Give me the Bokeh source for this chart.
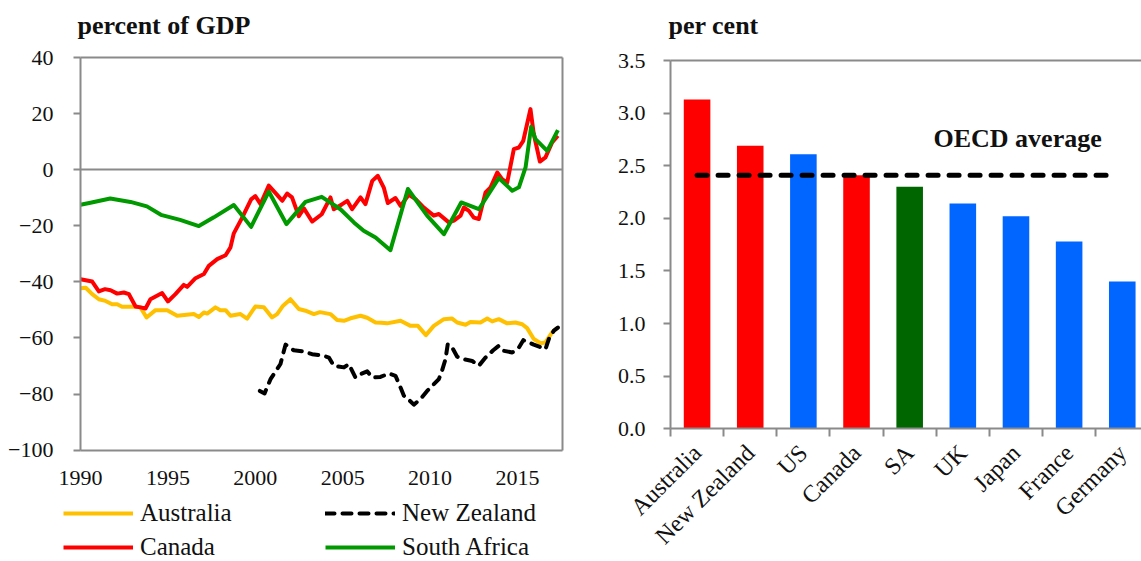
import math
from bokeh.plotting import figure
from bokeh.models import (Range1d, SingleIntervalTicker, FixedTicker, Legend, LegendItem,
                          Label, PrintfTickFormatter, LinearAxis)
from bokeh.layouts import row
from bokeh.embed import file_html
from bokeh.resources import INLINE

# ---------------- data: left chart (percent of GDP) ----------------
aus_year = [1990.0, 1990.3, 1990.67, 1991.05, 1991.43, 1991.81, 1992.1, 1992.38, 1993.05, 1993.43,
            1993.78, 1994.29, 1994.96, 1995.53, 1996.48, 1996.77, 1997.06, 1997.25, 1997.72, 1998.0,
            1998.3, 1998.58, 1999.15, 1999.53, 2000.0, 2000.49, 2000.96, 2001.25, 2001.59, 2002.01,
            2002.49, 2002.87, 2003.35, 2003.7, 2004.3, 2004.68, 2005.07, 2005.45, 2006.02, 2006.4,
            2006.88, 2007.2, 2007.54, 2008.31, 2008.88, 2009.3, 2009.76, 2010.21, 2010.79, 2011.26,
            2011.55, 2012.03, 2012.31, 2012.88, 2013.27, 2013.55, 2013.93, 2014.41, 2014.88, 2015.27,
            2015.55, 2015.93, 2016.32, 2016.6, 2016.98, 2017.31]
aus_val = [-42.3, -42.1, -44.4, -46.2, -46.8, -48.0, -48.0, -48.9, -48.9, -49.1,
           -52.7, -50.1, -50.1, -52.1, -51.5, -52.5, -50.9, -51.3, -49.1, -50.1,
           -50.1, -52.1, -51.5, -53.1, -48.8, -49.1, -52.7, -51.5, -48.5, -46.2,
           -49.7, -50.3, -51.5, -50.8, -51.5, -53.6, -53.9, -53.0, -52.1, -52.8,
           -54.5, -54.6, -54.8, -53.9, -55.7, -55.7, -59.0, -55.7, -53.3, -53.1,
           -54.5, -55.3, -54.3, -54.5, -53.1, -54.1, -53.3, -54.8, -54.5, -55.1,
           -56.5, -60.4, -61.9, -61.6, -58.0, -56.3]

can_year = [1990.0, 1990.67, 1991.05, 1991.4, 1991.72, 1992.1, 1992.48, 1992.77, 1993.15, 1993.43,
            1993.72, 1994.0, 1994.67, 1995.0, 1995.43, 1995.91, 1996.1, 1996.58, 1997.06, 1997.34,
            1997.82, 1998.3, 1998.58, 1998.77, 1999.25, 1999.76, 2000.0, 2000.3, 2000.77, 2001.25,
            2001.54, 2001.82, 2002.1, 2002.49, 2002.78, 2003.25, 2003.8, 2004.3, 2004.49, 2004.97,
            2005.26, 2005.54, 2006.02, 2006.3, 2006.69, 2007.01, 2007.35, 2007.58, 2008.02, 2008.31,
            2008.78, 2009.17, 2009.64, 2010.21, 2010.5, 2011.07, 2011.36, 2011.74, 2011.93, 2012.22,
            2012.5, 2012.79, 2013.17, 2013.46, 2013.84, 2014.12, 2014.41, 2014.79, 2015.08, 2015.33,
            2015.74, 2015.93, 2016.28, 2016.6, 2016.98, 2017.31]
can_val = [-39.1, -39.9, -43.4, -42.6, -43.0, -44.2, -43.8, -44.4, -48.8, -49.1,
           -49.5, -46.2, -44.0, -47.0, -44.4, -41.1, -41.8, -38.7, -37.2, -34.3,
           -31.9, -30.5, -27.7, -22.7, -17.1, -10.6, -9.4, -12.3, -5.7, -9.0,
           -11.1, -8.5, -9.9, -16.6, -13.8, -18.5, -15.9, -9.9, -14.1, -12.3,
           -11.1, -14.1, -9.9, -12.3, -4.0, -2.2, -6.4, -11.9, -10.1, -12.9,
           -9.0, -10.5, -13.5, -16.4, -15.8, -18.8, -18.2, -16.4, -13.5, -14.7,
           -17.1, -17.6, -8.1, -6.3, -1.0, -3.4, -4.6, 7.3, 7.9, 10.3,
           21.6, 12.7, 2.9, 4.4, 9.7, 12.1]

nz_year = [2000.26, 2000.53, 2000.87, 2001.44, 2001.73, 2002.2, 2002.78, 2003.25, 2003.92, 2004.21,
           2004.49, 2005.07, 2005.35, 2005.73, 2006.02, 2006.4, 2006.69, 2007.16, 2007.64, 2008.02,
           2008.31, 2008.5, 2008.69, 2009.07, 2009.45, 2009.83, 2010.12, 2010.5, 2010.69, 2010.88,
           2011.01, 2011.26, 2011.55, 2011.93, 2012.41, 2012.79, 2013.17, 2013.61, 2013.93, 2014.22,
           2014.7, 2015.08, 2015.33, 2015.65, 2015.93, 2016.28, 2016.6, 2016.79, 2017.08, 2017.31]
nz_val = [-78.9, -79.8, -74.7, -69.3, -62.4, -64.4, -64.8, -65.8, -66.4, -67.0,
          -69.9, -70.5, -69.3, -74.1, -72.9, -71.9, -74.1, -73.9, -72.7, -73.5,
          -77.7, -80.6, -81.5, -83.8, -81.8, -78.9, -77.1, -74.7, -71.5, -67.6,
          -62.2, -63.4, -66.7, -67.6, -68.2, -69.9, -67.0, -64.4, -62.8, -64.6,
          -65.2, -63.4, -60.8, -61.6, -62.4, -63.2, -64.0, -60.4, -57.4, -56.3]

sa_year = [1990.0, 1990.57, 1991.7, 1992.86, 1993.8, 1994.6, 1995.7, 1996.77, 1997.63, 1998.77,
           1999.76, 2000.77, 2001.78, 2002.87, 2003.8, 2004.87, 2005.64, 2006.2, 2006.88, 2007.73,
           2008.73, 2009.83, 2010.79, 2011.78, 2012.79, 2013.93, 2014.7, 2015.08, 2015.46, 2015.78,
           2016.03, 2016.7, 2017.31]
sa_val = [-12.5, -11.8, -10.3, -11.5, -13.1, -16.1, -17.9, -20.1, -17.0, -12.6,
          -20.4, -7.8, -19.4, -11.5, -9.7, -14.1, -18.8, -21.8, -24.2, -28.7,
          -6.9, -16.4, -23.0, -11.7, -14.1, -3.0, -7.5, -6.3, 0.8, 15.3,
          10.9, 6.7, 14.1]

# ---------------- data: right chart (per cent) ----------------
countries = ["Australia", "New Zealand", "US", "Canada", "SA", "UK", "Japan", "France", "Germany"]
shares = [3.13, 2.69, 2.61, 2.41, 2.30, 2.14, 2.02, 1.78, 1.40]
oecd_avg = 2.41

# ---------------- styles / layout ----------------
FONT = "Liberation Serif"
GRAY = "#8a8a8a"
TXT = "#111111"
C_AUS = "#ffc000"
C_CAN = "#ff0000"
C_SA = "#009900"
C_NZ = "#000000"
bar_colors = ["#ff0000", "#ff0000", "#0066ff", "#ff0000", "#006600",
              "#0066ff", "#0066ff", "#0066ff", "#0066ff"]

H = 561
TOP = 44                 # frame top (pixels) for both panels
FRAME_H = H - TOP

# left panel geometry (pixels within the left figure)
LW = 600
L_X0, L_X1 = 80, 562     # plot box left/right
L_BOX_TOP = 57           # pixel row of the top of the plot box
L_YEAR0, L_YEAR1 = 1990, 2017.574
L_VMIN, L_VMAX = -100, 40
l_pxy = (L_X1 - L_X0) / (L_YEAR1 - L_YEAR0)
l_pyv = 392.6 / (L_VMAX - L_VMIN)
lx_range = Range1d(L_YEAR0 - L_X0 / l_pxy, L_YEAR0 + (LW - L_X0) / l_pxy)
l_top = L_VMAX + (L_BOX_TOP - TOP) / l_pyv
ly_range = Range1d(l_top - FRAME_H / l_pyv, l_top)

# right panel geometry
RW = 541
R_X0 = 70                # y-axis position within the right figure
R_SLOT = 53.15
R_BOX_TOP = 60
R_VMAX = 3.5
r_pyv = 368.3 / R_VMAX
rx_range = Range1d(-R_X0 / R_SLOT, (RW - R_X0) / R_SLOT)
r_top = R_VMAX + (R_BOX_TOP - TOP) / r_pyv
ry_range = Range1d(r_top - FRAME_H / r_pyv, r_top)


def base_fig(width, xr, yr, title):
    f = figure(width=width, height=H, output_backend="svg", toolbar_location=None,
               x_range=xr, y_range=yr, min_border=0, min_border_top=TOP,
               min_border_left=0, min_border_right=0, min_border_bottom=0)
    f.xgrid.visible = False
    f.ygrid.visible = False
    f.outline_line_color = None
    f.title.text = title
    f.title.text_font = FONT
    f.title.text_font_size = "26px"
    f.title.text_font_style = "bold"
    f.title.text_color = TXT
    f.title.align = "left"
    return f


def style_axis(ax):
    ax.axis_line_color = GRAY
    ax.axis_line_width = 2
    ax.major_tick_line_color = GRAY
    ax.major_tick_line_width = 2
    ax.major_tick_in = 0
    ax.major_tick_out = 7
    ax.minor_tick_line_color = None
    ax.major_label_text_font = FONT
    ax.major_label_text_font_size = "22px"
    ax.major_label_text_color = TXT


def line_axis(fig, side, loc, bounds, level="guide"):
    ax = LinearAxis(fixed_location=loc, bounds=bounds, ticker=FixedTicker(ticks=[]),
                    axis_line_color=GRAY, axis_line_width=2,
                    major_tick_line_color=None, minor_tick_line_color=None,
                    major_label_text_font_size="0px", level=level)
    fig.add_layout(ax, side)


# ---------------- left figure ----------------
left = base_fig(LW, lx_range, ly_range, "percent of GDP")
left.title.offset = 77
left.title.standoff = 9

l_yax = left.yaxis[0]
l_xax = left.xaxis[0]
style_axis(l_yax)
l_yax.fixed_location = L_YEAR0
l_yax.bounds = (L_VMIN, L_VMAX)
l_yax.ticker = SingleIntervalTicker(interval=20, num_minor_ticks=0)
l_yax.major_label_standoff = 20
style_axis(l_xax)
l_xax.fixed_location = L_VMIN
l_xax.bounds = (L_YEAR0, L_YEAR1)
l_xax.ticker = SingleIntervalTicker(interval=5, num_minor_ticks=0)
l_xax.major_tick_line_color = None
l_xax.major_tick_out = 0
l_xax.major_label_standoff = 21

line_axis(left, "above", L_VMAX, (L_YEAR0, L_YEAR1))
line_axis(left, "right", L_YEAR1, (L_VMIN, L_VMAX))
line_axis(left, "below", 0, (L_YEAR0, L_YEAR1), level="underlay")

r_aus = left.line(aus_year, aus_val, line_color=C_AUS, line_width=4, line_join="round")
r_nz = left.line(nz_year, nz_val, line_color=C_NZ, line_width=4, line_dash="9 8",
                 line_cap="round", line_join="round")
r_can = left.line(can_year, can_val, line_color=C_CAN, line_width=4, line_join="round")
r_sa = left.line(sa_year, sa_val, line_color=C_SA, line_width=4, line_join="round")

legend = Legend(items=[LegendItem(label="Australia", renderers=[r_aus]),
                       LegendItem(label="New Zealand", renderers=[r_nz]),
                       LegendItem(label="Canada", renderers=[r_can]),
                       LegendItem(label="South Africa", renderers=[r_sa])],
                location=(63, 0), orientation="horizontal", ncols=2,
                glyph_width=70, glyph_height=22, label_height=22, label_width=179,
                label_standoff=7, spacing=6, padding=0, margin=0,
                border_line_color=None, background_fill_alpha=0,
                label_text_font=FONT, label_text_font_size="25px",
                label_text_color=TXT)
left.add_layout(legend, "center")

# ---------------- right figure ----------------
xs = [i + 0.5 for i in range(len(countries))]
right = base_fig(RW, rx_range, ry_range, "per cent")
right.title.offset = 68
right.title.standoff = 10

r_yax = right.yaxis[0]
r_xax = right.xaxis[0]
style_axis(r_yax)
r_yax.fixed_location = 0
r_yax.bounds = (0, R_VMAX)
r_yax.ticker = SingleIntervalTicker(interval=0.5, num_minor_ticks=0)
r_yax.formatter = PrintfTickFormatter(format="%.1f")
r_yax.major_label_standoff = 18
style_axis(r_xax)
r_xax.fixed_location = 0
r_xax.bounds = (0, rx_range.end)
r_xax.ticker = FixedTicker(ticks=xs, minor_ticks=list(range(len(countries) + 1)))
r_xax.major_tick_line_color = None
r_xax.major_tick_out = 0
r_xax.minor_tick_line_color = GRAY
r_xax.minor_tick_line_width = 2
r_xax.minor_tick_in = 0
r_xax.minor_tick_out = 8
r_xax.major_label_overrides = {x: c for x, c in zip(xs, countries)}
r_xax.major_label_orientation = math.pi / 4
r_xax.major_label_text_font_size = "24px"
r_xax.major_label_standoff = 12

right.vbar(x=xs, top=shares, width=0.5, fill_color=bar_colors, line_color=None)
right.line([xs[0], xs[-1] - 0.1], [oecd_avg, oecd_avg], line_color="black", line_width=5,
           line_dash="10 11", line_cap="round")
right.add_layout(Label(x=4.948, y=2.759, text="OECD average", text_font=FONT,
                       text_font_size="26px", text_font_style="bold", text_baseline="middle",
                       text_color=TXT))
line_axis(right, "above", R_VMAX, (0, rx_range.end))

layout = row(left, right)
open("out.html", "w").write(file_html(layout, INLINE))
